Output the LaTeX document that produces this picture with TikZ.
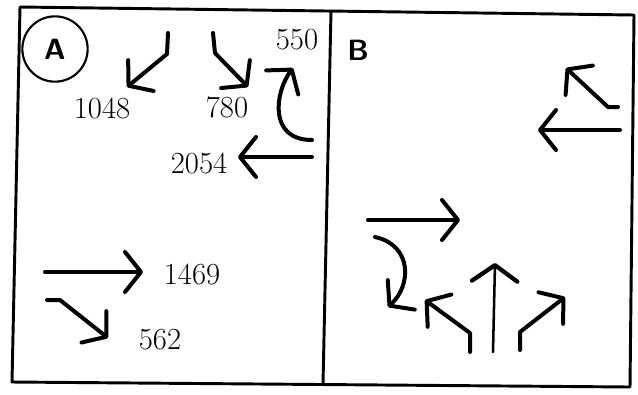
\documentclass[tikz,border=0pt]{standalone}
\usetikzlibrary{arrows.meta}
\begin{document}
\begin{tikzpicture}[x=0.75pt,y=-0.75pt,
  frm/.style={line width=2.2pt,line cap=round,line join=round},
  arr/.style={line width=3pt,line cap=round,line join=round,
    -{Straight Barb[length=12pt,width=30pt,round]}},
  tarr/.style={line width=1.9pt,line cap=round,
    -{Straight Barb[length=12pt,width=34pt,round,line width=3.2pt]}},
  cnt/.style={font=\fontsize{23}{27}\selectfont,inner sep=0pt},
  plbl/.style={font=\sffamily\bfseries\fontsize{22}{26}\selectfont,inner sep=1pt}
]
\useasboundingbox (0,0) rectangle (638,394);
% frame and divider
\draw[frm] (20,7) -- (634,15) -- (630,387) -- (12,382) -- cycle;
\draw[frm] (331,11) -- (323,384);
% panel A
\node[plbl,draw,circle,line width=1.6pt,minimum size=49pt] (pA) at (55,49) {A};
\node[cnt] (c1048) at (102,108) {1048};
\node[cnt] (c780)  at (227,107) {780};
\node[cnt] (c550)  at (297,40)  {550};
\node[cnt] (c2054) at (199,163) {2054};
\node[cnt] (c1469) at (192,274) {1469};
\node[cnt] (c562)  at (160,340) {562};
\draw[arr] (168,33) -- (167,54) -- (127,87);
\draw[arr] (213,33) -- (215,53) -- (248,87);
\draw[arr] (312,140) .. controls (268,140) and (275,92) .. (293,68);
\draw[arr] (312,157) -- (238,157);
\draw[arr] (45,272) -- (143,272);
\draw[arr] (47,300) -- (60,300) -- (108,338);
% panel B
\node[plbl] (pB) at (358,50) {B};
\draw[arr] (618,107) -- (608,107) -- (566,68);
\draw[arr] (620,130) -- (538,130);
\draw[arr] (368,220) -- (460,220);
\draw[arr] (375,237) .. controls (412,245) and (412,285) .. (388,307);
\draw[arr] (470,352) -- (470,333) -- (425,300);
\draw[tarr] (493,352) -- (495,263);
\draw[arr] (520,350) -- (520,332) -- (565,297);
\end{tikzpicture}
\end{document}
